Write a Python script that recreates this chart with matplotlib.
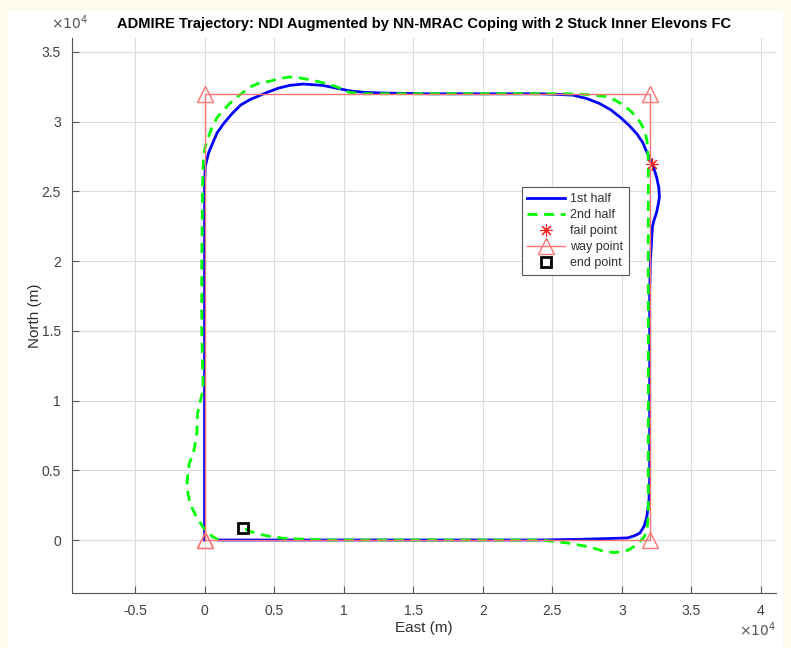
import numpy as np
import matplotlib
matplotlib.use("Agg")
from matplotlib import pyplot as plt
from matplotlib.patches import Rectangle

plt.rcParams['font.family'] = ['Liberation Sans', 'DejaVu Sans']

# trajectory data, units of 1e4 m
x1 = [0, 0, 0, 0, 0.005, 0.03, 0.09, 0.14, 0.2, 0.26, 0.33, 0.45, 0.53, 0.61, 0.71, 0.85,
      0.95, 1.05, 1.15, 1.3, 1.6, 2.0, 2.41, 2.55, 2.65, 2.75, 2.84, 2.92, 2.99, 3.05, 3.11,
      3.15, 3.18, 3.22, 3.25, 3.265, 3.27, 3.26, 3.25, 3.23, 3.22, 3.215, 3.205, 3.2, 3.2,
      3.2, 3.2, 3.195, 3.18, 3.16, 3.13, 3.09, 3.04, 2.89, 2.7, 2.41, 2.0, 1.5, 1.0, 0.5, 0.1]
y1 = [0, 1.0, 2.0, 2.55, 2.68, 2.78, 2.92, 2.99, 3.06, 3.12, 3.16, 3.21, 3.24, 3.26, 3.27, 3.26,
      3.24, 3.22, 3.21, 3.205, 3.2, 3.2, 3.2, 3.195, 3.19, 3.165, 3.13, 3.085, 3.03, 2.975, 2.91,
      2.85, 2.78, 2.70, 2.60, 2.53, 2.46, 2.40, 2.35, 2.29, 2.25, 2.17, 2.0, 1.77, 1.46,
      0.8, 0.43, 0.29, 0.17, 0.10, 0.05, 0.03, 0.015, 0.01, 0.005, 0, 0, 0, 0, 0, 0]

x2 = [0.1, 0.05, -0.01, -0.06, -0.09, -0.11, -0.12, -0.126, -0.12, -0.11, -0.08, -0.055, -0.05,
      -0.03, -0.01, -0.02, -0.02, -0.015, -0.01, 0.0, 0.02, 0.05, 0.09, 0.18, 0.25, 0.33, 0.4,
      0.47, 0.54, 0.61, 0.68, 0.76, 0.85, 0.95, 1.04, 1.15, 1.3, 1.6, 2.0, 2.4, 2.6, 2.75,
      2.89, 2.95, 3.01, 3.07, 3.13, 3.16, 3.18, 3.185, 3.19, 3.19, 3.19, 3.19, 3.19, 3.185,
      3.18, 3.16, 3.13, 3.09, 3.05, 3.0, 2.94, 2.85, 2.77, 2.6, 2.41, 2.0, 1.5, 0.9, 0.75,
      0.6, 0.5, 0.4, 0.33, 0.27]
y2 = [0, 0.03, 0.09, 0.17, 0.23, 0.29, 0.34, 0.40, 0.48, 0.55, 0.62, 0.77, 0.91,
      1.0, 1.08, 1.5, 2.0, 2.5, 2.7, 2.8, 2.87, 2.95, 3.03, 3.13, 3.19, 3.25, 3.28,
      3.29, 3.31, 3.32, 3.315, 3.30, 3.28, 3.25, 3.21, 3.2, 3.2, 3.2, 3.2, 3.2, 3.2, 3.195,
      3.18, 3.155, 3.12, 3.07, 3.0, 2.94, 2.87, 2.8, 2.73, 2.4, 1.5, 0.5, 0.19, 0.12,
      0.07, 0.02, -0.01, -0.045, -0.07, -0.085, -0.09, -0.075, -0.05, -0.02, 0, 0, 0, 0, 0.005,
      0.01, 0.02, 0.04, 0.06, 0.09]

way_x = [0, 0, 3.2, 3.2, 0]
way_y = [0, 3.2, 3.2, 0, 0]
fail_x, fail_y = 3.22, 2.70
end_x, end_y = 0.274, 0.088

x1 = np.array(x1) * 1e4
y1 = np.array(y1) * 1e4
x2 = np.array(x2) * 1e4
y2 = np.array(y2) * 1e4
way_x = np.array(way_x) * 1e4
way_y = np.array(way_y) * 1e4

fig = plt.figure(figsize=(7.91, 6.48), dpi=100, facecolor='#fdfbee')
fig.patches.append(Rectangle((8 / 791, 0), 775 / 791, 638 / 648, transform=fig.transFigure,
                             facecolor='white', edgecolor='none', zorder=-10))
ax = fig.add_axes([72 / 791, 55 / 648, 704 / 791, 555 / 648])

ax.plot(x1, y1, color='#0000ff', lw=2, label='1st half')
ax.plot(x2, y2, color='#00ff00', lw=2, dashes=(3.6, 2.4), label='2nd half')
ax.plot(fail_x * 1e4, fail_y * 1e4, ls='none', marker=(8, 2, 0), ms=9, mew=0.8,
        color='#ff2020', label='fail point')
ax.plot(way_x, way_y, color='#ff7474', lw=1, marker='^', ms=11, mfc='none', mew=1,
        label='way point')
ax.plot(end_x * 1e4, end_y * 1e4, ls='none', marker='s', ms=7, mfc='none', mew=2,
        color='black', label='end point')

ax.set_xlim(-0.953e4, 4.108e4)
ax.set_ylim(-0.38e4, 3.6e4)
ax.set_xticks(np.arange(-0.5, 4.01, 0.5) * 1e4)
ax.set_yticks(np.arange(0, 3.51, 0.5) * 1e4)
ax.set_xticklabels(['-0.5', '0', '0.5', '1', '1.5', '2', '2.5', '3', '3.5', '4'])
ax.set_yticklabels(['0', '0.5', '1', '1.5', '2', '2.5', '3', '3.5'])
ax.grid(True, color='#dcdcdc', lw=0.8)
ax.set_axisbelow(True)
for s in ['top', 'right']:
    ax.spines[s].set_visible(False)
for s in ['left', 'bottom']:
    ax.spines[s].set_color('#555555')
ax.tick_params(direction='in', length=5, colors='#555555', labelcolor='#404040',
               labelsize=10, pad=8)

ax.set_xlabel('East (m)', fontsize=11, color='#303030', labelpad=2)
ax.set_ylabel('North (m)', fontsize=11, color='#303030', labelpad=0)
ax.set_title('ADMIRE Trajectory: NDI Augmented by NN-MRAC Coping with 2 Stuck Inner Elevons FC',
             fontsize=10.5, fontweight='bold', pad=7)
ax.text(-0.03, 1.01, r'$\times10^{4}$', transform=ax.transAxes, fontsize=10,
        color='#555555', ha='left', va='bottom')
ax.text(1.0, -0.05, r'$\times10^{4}$', transform=ax.transAxes, fontsize=10,
        color='#555555', ha='right', va='top')

leg = ax.legend(loc='upper left', bbox_to_anchor=(0.639, 0.731), fontsize=9,
                fancybox=False, edgecolor='#555555', framealpha=1, handlelength=3.0,
                borderpad=0.45, labelspacing=0.32, handletextpad=0.4, borderaxespad=0)
leg.get_frame().set_linewidth(0.8)
for t in leg.get_texts():
    t.set_color('#303030')

fig.savefig('out.png', dpi=100, facecolor=fig.get_facecolor())
